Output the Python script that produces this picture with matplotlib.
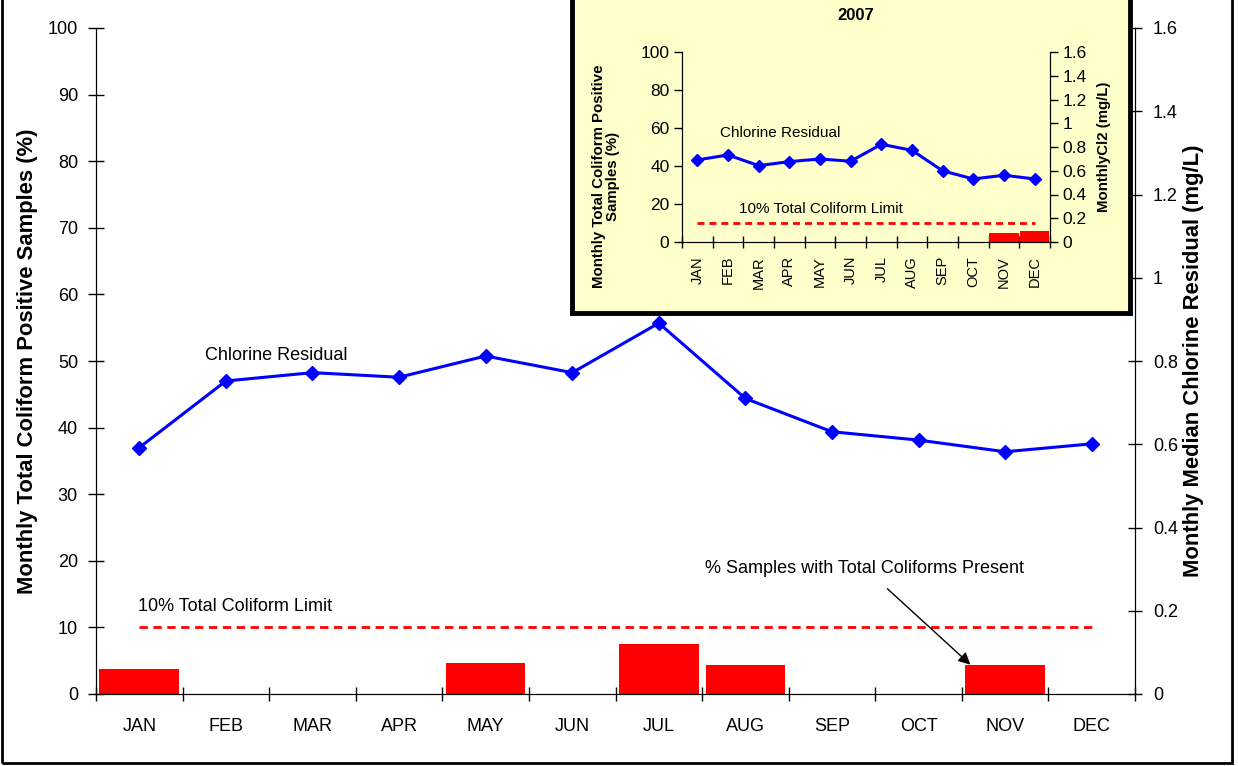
import numpy as np
import matplotlib
matplotlib.use("Agg")
import matplotlib.pyplot as plt
from matplotlib.patches import Rectangle

plt.rcParams['font.family'] = ['Liberation Sans', 'DejaVu Sans']

months = ["JAN", "FEB", "MAR", "APR", "MAY", "JUN", "JUL", "AUG", "SEP", "OCT", "NOV", "DEC"]
# main chart (current year)
coliform_pct = [3.8, 0, 0, 0, 4.6, 0, 7.5, 4.4, 0, 0, 4.4, 0]
chlorine = [0.592, 0.752, 0.772, 0.761, 0.812, 0.772, 0.891, 0.710, 0.630, 0.610, 0.582, 0.601]
limit_pct = 10
# inset chart (2007)
coliform_2007 = [0, 0, 0, 0, 0, 0, 0, 0, 0, 0, 4.7, 5.6]
chlorine_2007 = [0.691, 0.733, 0.643, 0.677, 0.699, 0.680, 0.823, 0.772, 0.599, 0.531, 0.562, 0.531]
right_ticks = [0, 0.2, 0.4, 0.6, 0.8, 1.0, 1.2, 1.4, 1.6]
right_tick_labels = ["0", "0.2", "0.4", "0.6", "0.8", "1", "1.2", "1.4", "1.6"]

W, H = 1238, 766
fig = plt.figure(figsize=(W / 100, H / 100), dpi=100)

RED = "#FF0000"
BLUE = "#0000FF"
x = np.arange(len(months))

# ---------------- main chart ----------------
ax = fig.add_axes([96 / W, 1 - 694 / H, (1135 - 96) / W, (694 - 28) / H])
ax.bar(x, coliform_pct, width=0.92, color=RED, zorder=2)
ax.plot([x[0], x[-1]], [limit_pct, limit_pct], color=RED, lw=2, ls=(0, (3, 2)), zorder=3)
ax.set_xlim(-0.5, 11.5)
ax.set_ylim(0, 100)
ax.set_yticks(range(0, 101, 10))
ax.set_xticks(np.arange(-0.5, 12, 1))
ax.set_xticklabels([])
ax.set_xticks(x, minor=True)
ax.set_xticklabels(months, minor=True)
ax.tick_params(axis='x', which='major', direction='inout', length=10, width=1)
ax.tick_params(axis='x', which='minor', length=0, pad=17, labelsize=13)
ax.tick_params(axis='y', direction='inout', length=12, width=1, labelsize=13, pad=7)
ax.spines['top'].set_visible(False)
for s in ['left', 'bottom', 'right']:
    ax.spines[s].set_color('#222222')
ax.set_ylabel("Monthly Total Coliform Positive Samples (%)", fontsize=15.8,
              fontweight='bold')
ax.yaxis.set_label_coords(-0.0558, 0.5)

ax.text(-0.02, 13.2, "10% Total Coliform Limit", fontsize=13, va='center', ha='left')
ax.annotate("% Samples with Total Coliforms Present", xy=(9.6, 4.4), xytext=(8.38, 18.9),
            fontsize=13, ha='center', va='center',
            arrowprops=dict(arrowstyle='-|>', color='black', lw=1,
                            mutation_scale=18, shrinkA=10, shrinkB=0))

ax2 = ax.twinx()
ax2.plot(x, chlorine, color=BLUE, lw=2.2, marker='D', markersize=7, zorder=4)
ax2.set_ylim(0, 1.6)
ax2.set_yticks(right_ticks)
ax2.set_yticklabels(right_tick_labels)
ax2.tick_params(axis='y', direction='inout', length=10, width=1, labelsize=13, pad=8)
ax2.spines['top'].set_visible(False)
ax2.set_ylabel("Monthly Median Chlorine Residual (mg/L)", fontsize=15.8,
               fontweight='bold')
ax2.yaxis.set_label_coords(1.0462, 0.5)
ax2.text(0.76, 0.814, "Chlorine Residual", fontsize=13, va='center', ha='left')

# ---------------- inset box ----------------
box = fig.add_axes([572 / W, 1 - 313 / H, (1130 - 572) / W, (313 + 20) / H])
box.set_facecolor("#FFFFCC")
box.set_xticks([])
box.set_yticks([])
for s in box.spines.values():
    s.set_linewidth(3.5)
    s.set_color('black')
box.set_zorder(5)

ia = fig.add_axes([682 / W, 1 - 242 / H, (1050 - 682) / W, (242 - 52) / H])
ia.set_facecolor('none')
ia.set_zorder(6)
ia.bar(x, coliform_2007, width=0.95, color=RED, zorder=2)
ia.plot([x[0], x[-1]], [limit_pct, limit_pct], color=RED, lw=2, ls=(0, (2.5, 1.8)), zorder=3)
ia.set_xlim(-0.5, 11.5)
ia.set_ylim(0, 100)
ia.set_yticks(range(0, 101, 20))
ia.set_xticks(np.arange(-0.5, 12, 1))
ia.set_xticklabels([])
ia.set_xticks(x, minor=True)
ia.set_xticklabels(months, minor=True, rotation=90)
ia.tick_params(axis='x', which='major', direction='inout', length=8, width=1)
ia.tick_params(axis='x', which='minor', length=0, pad=10, labelsize=10.5)
ia.tick_params(axis='y', direction='out', length=6, width=1, labelsize=12.5, pad=3)
ia.spines['top'].set_visible(False)
ia.set_ylabel("Monthly Total Coliform Positive\nSamples (%)", fontsize=10.8,
              fontweight='bold', linespacing=1.0)
ia.yaxis.set_label_coords(-0.168, 0.347)
ia.text(1.35, 17.5, "10% Total Coliform Limit", fontsize=11, va='center', ha='left')
ia.text(0.74, 57.3, "Chlorine Residual", fontsize=11, va='center', ha='left')

ia2 = ia.twinx()
ia2.set_zorder(7)
ia2.plot(x, chlorine_2007, color=BLUE, lw=2.2, marker='D', markersize=6, zorder=4)
ia2.set_ylim(0, 1.6)
ia2.set_yticks(right_ticks)
ia2.set_yticklabels(right_tick_labels)
ia2.tick_params(axis='y', direction='out', length=6, width=1, labelsize=12.5, pad=3)
ia2.spines['top'].set_visible(False)
ia2.set_ylabel("MonthlyCl2 (mg/L)", fontsize=10.8, fontweight='bold')
ia2.yaxis.set_label_coords(1.128, 0.5)

fig.text(856 / W, 1 - 16 / H, "2007", fontsize=12, fontweight='bold', ha='center',
         va='center', zorder=10)

# outer border
fig.patches.append(Rectangle((2 / W, 3 / H), 1230 / W, 1.2, transform=fig.transFigure,
                             fill=False, lw=2, ec='black', zorder=20))

fig.savefig("out.png", dpi=100)
